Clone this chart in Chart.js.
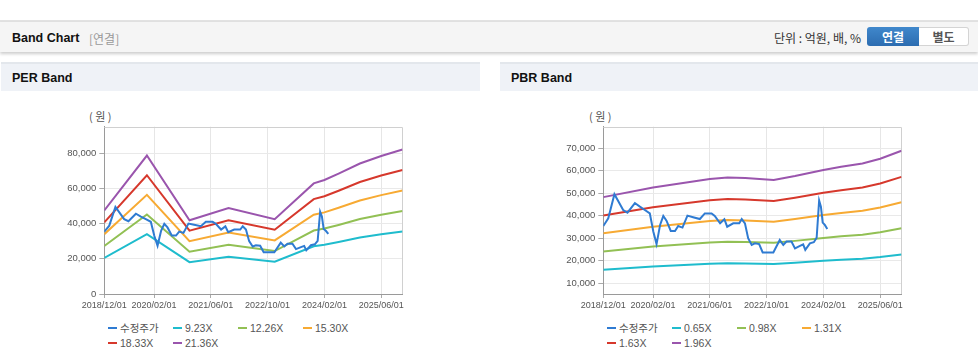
<!DOCTYPE html>
<html><head><meta charset="utf-8">
<script src="https://cdn.jsdelivr.net/npm/chart.js@4.4.1/dist/chart.umd.min.js"></script>
<style>
html,body{margin:0;padding:0;background:#fff}
body{width:978px;height:361px;overflow:hidden;position:relative;font-family:"Liberation Sans","Noto Sans CJK KR",sans-serif}
.abs{position:absolute}
#topline{left:0;top:20px;width:978px;height:2px;background:#e2e2e2}
#hdr{left:0;top:22px;width:978px;height:30px;background:#f5f5f5;box-shadow:0 2px 3px rgba(0,0,0,0.2)}
#title{left:12px;top:30px;font-size:12.5px;font-weight:bold;color:#111;line-height:16px}
#sub{left:89px;top:31px;font-size:12px;color:#999;line-height:16px;font-family:"Noto Sans CJK KR",sans-serif}
#unit{right:117px;top:29px;font-size:12px;color:#333;line-height:18px;font-family:"Noto Sans CJK KR",sans-serif}
#btn1{left:867px;top:27px;width:52px;height:19px;background:linear-gradient(#4088cc,#2c6cb0);border-radius:3px 0 0 3px;color:#fff;font-weight:bold;font-size:12px;text-align:center;line-height:19px;font-family:"Noto Sans CJK KR",sans-serif}
#btn2{left:919px;top:27px;width:49px;height:17px;background:#fff;border:1px solid #d4d4d4;border-left:none;border-radius:0 3px 3px 0;color:#555;font-weight:bold;font-size:12px;text-align:center;line-height:17px;font-family:"Noto Sans CJK KR",sans-serif}
.ph{top:62px;height:27px;background:#eff2f7;border-top:2px solid #e3e7ec}
.pt{font-size:12.5px;font-weight:bold;color:#111;line-height:16px;top:70px}
.unitlbl{top:109px;font-size:11px;color:#555;font-family:"Noto Sans CJK KR",sans-serif;line-height:14px}
canvas{position:absolute}
.legend{top:321px;width:265px;font-size:10.5px;color:#555;line-height:15px}
.legend .it{display:inline-block;width:65px;white-space:nowrap}
.legend .mk{display:inline-block;width:9px;height:2px;vertical-align:middle;margin-right:3px;position:relative;top:-1px}
</style>
</head><body>
<div class="abs" id="topline"></div>
<div class="abs" id="hdr"></div>
<div class="abs" id="title">Band Chart</div>
<div class="abs" id="sub">[연결]</div>
<div class="abs" id="unit">단위 : 억원, 배, %</div>
<div class="abs" id="btn1">연결</div>
<div class="abs" id="btn2">별도</div>

<div class="abs ph" style="left:1px;width:479px"></div>
<div class="abs pt" style="left:12px">PER Band</div>
<div class="abs ph" style="left:500px;width:478px"></div>
<div class="abs pt" style="left:511px">PBR Band</div>

<div class="abs unitlbl" style="left:89px">( 원 )</div>
<div class="abs unitlbl" style="left:589px">( 원 )</div>

<canvas id="per" width="400" height="215" style="left:30px;top:100px"></canvas>
<canvas id="pbr" width="400" height="215" style="left:529px;top:100px"></canvas>
<div class="abs legend" id="perLegend" style="left:108px"></div>
<div class="abs legend" id="pbrLegend" style="left:607px"></div>

<script>
// ---------- DATA ----------
const xTickLabels = ['2018/12/01','2020/02/01','2021/06/01','2022/10/01','2024/02/01','2025/06/01'];
const xStart = '2018-12-01';
const xEnd = '2025-12-01';

const priceLabel = '수정주가';
const priceDates = ['2018-12-01','2019-01-13','2019-03-05','2019-05-19','2019-06-25','2019-08-28','2019-10-10','2019-11-22','2020-01-04','2020-02-04','2020-03-01','2020-04-01','2020-04-28','2020-05-25','2020-07-01','2020-08-07','2020-09-04','2020-10-10','2020-11-22','2021-01-10','2021-03-07','2021-04-19','2021-06-16','2021-07-13','2021-08-28','2021-10-04','2021-10-28','2021-12-19','2022-02-10','2022-03-01','2022-03-28','2022-04-25','2022-05-25','2022-06-22','2022-07-28','2022-08-28','2022-11-28','2023-01-22','2023-02-22','2023-03-19','2023-05-01','2023-06-01','2023-07-13','2023-08-10','2023-08-28','2023-10-07','2023-11-10','2023-12-04','2023-12-25','2024-01-10','2024-01-25','2024-02-13','2024-03-04'];
const priceValues = [35400,38800,49500,42500,41300,45600,44000,42500,41000,32900,27400,35900,39900,37800,33200,33200,35400,34700,40000,39300,38500,41000,41000,39900,36600,38400,35100,36600,36600,38500,36600,30000,27000,27700,27400,23700,23700,29200,27000,28500,28500,25500,26600,27300,24800,27700,28200,30200,46700,44000,36900,35900,34100];

// PER band: multiples of EPS (원)
const perBandLabels = ['9.23X','12.26X','15.30X','18.33X','21.36X'];
const perMultiples = [9.23, 12.26, 15.30, 18.33, 21.36];
const epsDates = ['2018-12-01','2019-12-01','2020-12-01','2021-11-01','2022-12-01','2023-11-01','2024-02-01','2024-06-01','2024-12-01','2025-06-01','2025-12-01'];
const epsValues = [2220,3680,1960,2285,1990,2940,3030,3200,3470,3670,3840];

// PBR band: multiples of BPS (원)
const pbrBandLabels = ['0.65X','0.98X','1.31X','1.63X','1.96X'];
const pbrMultiples = [0.65, 0.98, 1.31, 1.63, 1.96];
const bpsDates = ['2018-12-01','2020-02-01','2021-06-01','2021-11-01','2022-04-01','2022-12-01','2023-06-01','2024-02-01','2024-07-01','2025-01-01','2025-06-01','2025-12-01'];
const bpsValues = [24600,26800,28700,29050,28900,28500,29400,30750,31450,32200,33300,35100];

// ---------- STYLE ----------
const priceColor = '#2f7bd2';
const bandColors = ['#1fbccd','#92c054','#f7aa33','#d6382c','#9a55ad'];

function monthIdx(s){
  const p = s.replace(/\//g,'-').split('-').map(Number);
  const b = xStart.split('-').map(Number);
  return (p[0]-b[0])*12 + (p[1]-b[1]) + ((p[2]||1)-1)/30;
}

function buildSets(baseDates, baseVals, mults, labels){
  const sets = [{
    label: priceLabel,
    data: priceDates.map((d,i)=>({x: monthIdx(d), y: priceValues[i]})),
    borderColor: priceColor, backgroundColor: priceColor
  }];
  mults.forEach((k,i)=>{
    sets.push({
      label: labels[i],
      data: baseDates.map((d,j)=>({x: monthIdx(d), y: Math.round(baseVals[j]*k)})),
      borderColor: bandColors[i], backgroundColor: bandColors[i]
    });
  });
  sets.forEach(s=>{ s.borderWidth = 2; s.pointRadius = 0; s.tension = 0; s.fill = false; });
  return sets;
}

const frame = {
  id: 'frame',
  beforeDatasetsDraw(c){
    const {ctx, chartArea:a} = c;
    ctx.save();
    ctx.strokeStyle = '#d0d0d0'; ctx.lineWidth = 1;
    ctx.beginPath();
    ctx.moveTo(a.left, Math.round(a.top)+0.5);
    ctx.lineTo(Math.round(a.right)-0.5, Math.round(a.top)+0.5);
    ctx.lineTo(Math.round(a.right)-0.5, a.bottom);
    ctx.stroke();
    ctx.restore();
  }
};

function makeChart(id, sets, yMin, yMax, step){
  return new Chart(document.getElementById(id), {
    type: 'line',
    data: { datasets: sets },
    plugins: [frame],
    options: {
      responsive: false, animation: false, devicePixelRatio: 1,
      layout: { padding: { left: 0, right: 27.5, top: 26.7, bottom: 0 } },
      plugins: { legend: { display: false }, tooltip: { enabled: false } },
      scales: {
        x: {
          type: 'linear', min: 0, max: monthIdx(xEnd),
          afterBuildTicks: s => { s.ticks = xTickLabels.map(l => ({ value: monthIdx(l) })); },
          afterFit: s => { s.height = 21; },
          ticks: { autoSkip: false, maxRotation: 0, padding: 2, color: '#555',
                   font: { size: 9, family: '"Liberation Sans", Arial, sans-serif' },
                   callback: (v, i) => xTickLabels[i] },
          grid: { color: '#e6e6e6', tickLength: 4, tickColor: '#aaa' },
          border: { color: '#9a9a9a' }
        },
        y: {
          type: 'linear', min: yMin, max: yMax,
          afterBuildTicks: s => {
            const t = [];
            for (let v = Math.ceil(yMin / step) * step; v <= yMax; v += step) t.push({ value: v });
            s.ticks = t;
          },
          afterFit: s => { s.width = 74.3; },
          ticks: { autoSkip: false, padding: 3, color: '#555',
                   font: { size: 9.5, family: '"Liberation Sans", Arial, sans-serif' },
                   callback: v => Number(v).toLocaleString('en-US') },
          grid: { color: '#e9e9e9', tickLength: 5, tickColor: '#aaa' },
          border: { color: '#9a9a9a' }
        }
      }
    }
  });
}

makeChart('per', buildSets(epsDates, epsValues, perMultiples, perBandLabels), 0, 95000, 20000);
makeChart('pbr', buildSets(bpsDates, bpsValues, pbrMultiples, pbrBandLabels), 5250, 79450, 10000);

function legend(id, labels){
  const el = document.getElementById(id);
  const names = [priceLabel].concat(labels);
  const cols = [priceColor].concat(bandColors);
  el.innerHTML = names.map((n,i)=>'<span class="it"><span class="mk" style="background:'+cols[i]+'"></span>'+n+'</span>').join('');
}
legend('perLegend', perBandLabels);
legend('pbrLegend', pbrBandLabels);
</script>
</body></html>
